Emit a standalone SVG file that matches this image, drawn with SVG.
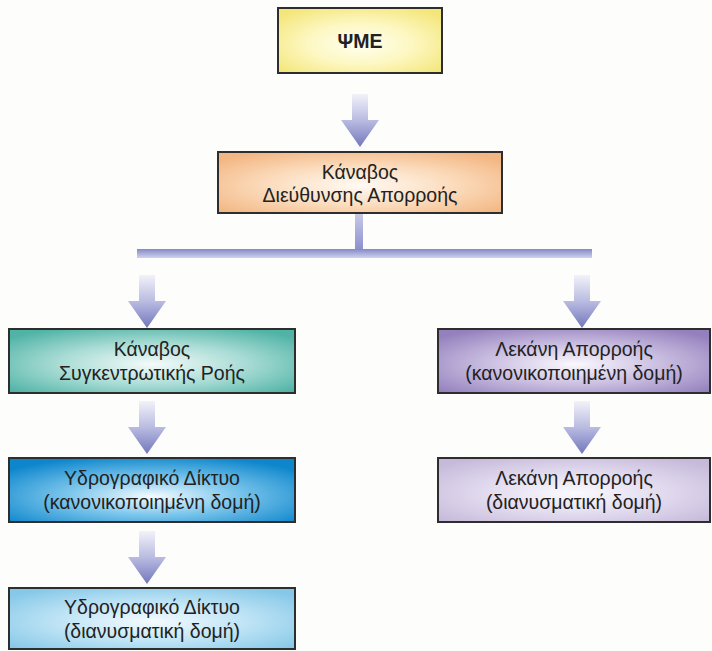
<svg xmlns="http://www.w3.org/2000/svg" width="712" height="651" viewBox="0 0 712 651">
<defs>
<radialGradient id="gY" cx="50%" cy="55%" r="65%"><stop offset="0" stop-color="#fffff2"/><stop offset="0.5" stop-color="#fdf7c0"/><stop offset="1" stop-color="#f3e67a"/></radialGradient>
<radialGradient id="gO" cx="50%" cy="55%" r="65%"><stop offset="0" stop-color="#fffaf4"/><stop offset="0.5" stop-color="#fbdcbd"/><stop offset="1" stop-color="#f3b682"/></radialGradient>
<radialGradient id="gT" cx="50%" cy="55%" r="65%"><stop offset="0" stop-color="#f4fbfa"/><stop offset="0.5" stop-color="#a9dcd5"/><stop offset="1" stop-color="#4fb3a5"/></radialGradient>
<radialGradient id="gB" cx="50%" cy="60%" r="65%"><stop offset="0" stop-color="#f4fbff"/><stop offset="0.45" stop-color="#7cc6ec"/><stop offset="1" stop-color="#0d86cc"/></radialGradient>
<radialGradient id="gL" cx="50%" cy="55%" r="65%"><stop offset="0" stop-color="#f4fbff"/><stop offset="0.5" stop-color="#bfe4f5"/><stop offset="1" stop-color="#86c8e8"/></radialGradient>
<radialGradient id="gP" cx="50%" cy="55%" r="65%"><stop offset="0" stop-color="#faf8fd"/><stop offset="0.5" stop-color="#c9bde0"/><stop offset="1" stop-color="#9480bd"/></radialGradient>
<radialGradient id="gV" cx="50%" cy="55%" r="65%"><stop offset="0" stop-color="#fbfafe"/><stop offset="0.5" stop-color="#e2dbef"/><stop offset="1" stop-color="#c6bada"/></radialGradient>
<linearGradient id="gA" x1="0" y1="0" x2="0" y2="1"><stop offset="0" stop-color="#f2f2f9"/><stop offset="0.5" stop-color="#b9bbe1"/><stop offset="1" stop-color="#7277bb"/></linearGradient>
<linearGradient id="gH" x1="0" y1="0" x2="0" y2="1"><stop offset="0" stop-color="#8489c8"/><stop offset="1" stop-color="#d0d2ec"/></linearGradient>
<linearGradient id="gS" x1="0" y1="0" x2="0" y2="1"><stop offset="0" stop-color="#c9cbe8"/><stop offset="1" stop-color="#8a8ecb"/></linearGradient>
<path id="arr" d="M-8,0 H8 V26 H19 L0,53 L-19,26 H-8 Z"/>
</defs>
<style>
.box{stroke:#2e2e2e;stroke-width:2}
.t{font-family:"Liberation Sans",Arial,sans-serif;font-size:19.5px;fill:#222;text-anchor:middle}
.b{font-weight:bold}
.a{fill:url(#gA)}
</style>
<rect width="712" height="651" fill="#fdfdfb"/>
<g id="connectors">
<use href="#arr" class="a" x="360" y="94"/>
<rect x="355" y="213" width="8" height="38" fill="url(#gS)"/>
<rect x="137" y="249" width="455" height="9" fill="url(#gH)"/>
<use href="#arr" class="a" x="147" y="275"/>
<use href="#arr" class="a" x="582" y="275"/>
<use href="#arr" class="a" x="147" y="401"/>
<use href="#arr" class="a" x="147" y="531"/>
<use href="#arr" class="a" x="582" y="401"/>
</g>
<g id="n-psme"><rect class="box" x="278" y="8" width="164" height="65" fill="url(#gY)"/><text class="t b" x="360" y="48">ΨΜΕ</text></g>
<g id="n-flowdir"><rect class="box" x="218" y="152" width="284" height="61" fill="url(#gO)"/><text class="t" x="360" y="179">Κάναβος</text><text class="t" x="360" y="202">Διεύθυνσης Απορροής</text></g>
<g id="n-flowacc"><rect class="box" x="9" y="329" width="286" height="64" fill="url(#gT)"/><text class="t" x="152" y="356">Κάναβος</text><text class="t" x="152" y="380">Συγκεντρωτικής Ροής</text></g>
<g id="n-streamr"><rect class="box" x="9" y="458" width="286" height="64" fill="url(#gB)"/><text class="t" x="152" y="485">Υδρογραφικό Δίκτυο</text><text class="t" x="152" y="509">(κανονικοποιημένη δομή)</text></g>
<g id="n-streamv"><rect class="box" x="9" y="588" width="286" height="61" fill="url(#gL)"/><text class="t" x="152" y="614">Υδρογραφικό Δίκτυο</text><text class="t" x="152" y="638">(διανυσματική δομή)</text></g>
<g id="n-basinr"><rect class="box" x="438" y="329" width="272" height="64" fill="url(#gP)"/><text class="t" x="574" y="356">Λεκάνη Απορροής</text><text class="t" x="574" y="380">(κανονικοποιημένη δομή)</text></g>
<g id="n-basinv"><rect class="box" x="438" y="458" width="272" height="64" fill="url(#gV)"/><text class="t" x="574" y="485">Λεκάνη Απορροής</text><text class="t" x="574" y="509">(διανυσματική δομή)</text></g>
</svg>
